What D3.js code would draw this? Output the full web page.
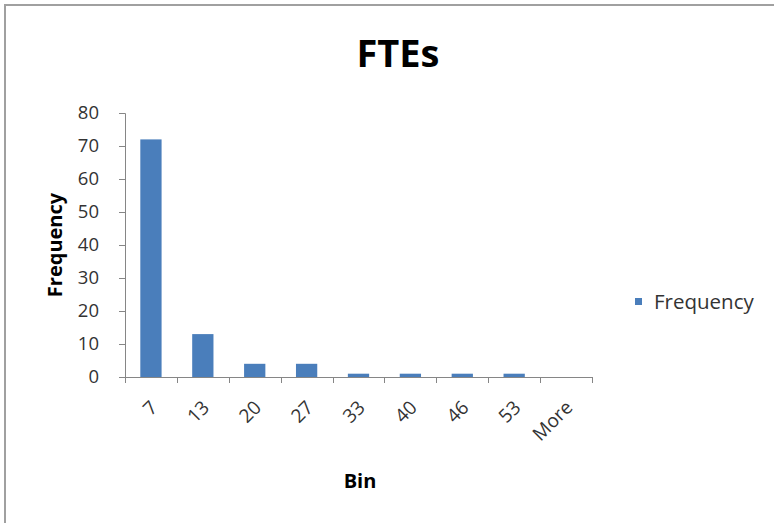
<!DOCTYPE html>
<html>
<head>
<meta charset="utf-8">
<script src="https://cdn.jsdelivr.net/npm/d3@7"></script>
<style>
  html, body { margin: 0; padding: 0; background: #fff; }
  svg { display: block; }
  text { font-family: "Open Sans", "Liberation Sans", sans-serif; }
</style>
</head>
<body>
<svg id="chart" width="774" height="523"></svg>
<script>
const categories = ["7", "13", "20", "27", "33", "40", "46", "53", "More"];
const frequency = [72, 13, 4, 4, 1, 1, 1, 1, 0];
const yTicks = [0, 10, 20, 30, 40, 50, 60, 70, 80];
const seriesName = "Frequency";
const chartTitle = "FTEs";
const xTitle = "Bin";
const yTitle = "Frequency";

const svg = d3.select("#chart");
const W = 774, H = 523;
svg.append("rect").attr("width", W).attr("height", H).attr("fill", "#fff");
// frame (left and top edges visible)
svg.append("line").attr("x1", 5).attr("x2", 5).attr("y1", 4).attr("y2", H)
  .attr("stroke", "#a0a0a0").attr("stroke-width", 2);
svg.append("line").attr("x1", 4).attr("x2", W).attr("y1", 5).attr("y2", 5)
  .attr("stroke", "#a0a0a0").attr("stroke-width", 2);

const plot = { left: 125, right: 592, top: 113, bottom: 377 };
const x = d3.scaleBand().domain(categories).range([plot.left, plot.right]).padding(0);
const y = d3.scaleLinear().domain([0, 80]).range([plot.bottom, plot.top]);
const axisColor = "#868686";
const labelColor = "#333333";
const barColor = "#4A7EBB";

// Y axis
const yAxis = svg.append("g").attr("transform", `translate(${plot.left},0)`)
  .call(d3.axisLeft(y).tickValues(yTicks).tickSize(6).tickPadding(20).tickFormat(d3.format("d")));
yAxis.select(".domain").attr("stroke", axisColor);
yAxis.selectAll(".tick line").attr("stroke", axisColor);
yAxis.selectAll(".tick text").attr("fill", labelColor).style("font-size", "18.5px")
  .style("font-family", "'Open Sans', sans-serif");

// Bars
const bw = x.bandwidth();
svg.append("g").selectAll("rect").data(categories).join("rect")
  .attr("x", d => x(d) + bw * 0.295)
  .attr("width", bw * 0.41)
  .attr("y", (d, i) => y(frequency[i]))
  .attr("height", (d, i) => y(0) - y(frequency[i]))
  .attr("fill", barColor);

// X axis line and boundary ticks
const xg = svg.append("g");
xg.append("line").attr("x1", plot.left).attr("x2", plot.right)
  .attr("y1", y(0) + 0.5).attr("y2", y(0) + 0.5).attr("stroke", axisColor);
const bounds = categories.map(c => x(c)).concat([x.range()[1]]);
xg.selectAll("line.tk").data(bounds).join("line").attr("class", "tk")
  .attr("x1", d => Math.round(d) + 0.5).attr("x2", d => Math.round(d) + 0.5)
  .attr("y1", y(0)).attr("y2", y(0) + 6).attr("stroke", axisColor);
xg.selectAll("text").data(categories).join("text")
  .attr("transform", d => `translate(${x(d) + bw / 2 + 3},${y(0) + 27}) rotate(-45)`)
  .attr("text-anchor", "end")
  .attr("dy", "0.35em")
  .attr("fill", labelColor)
  .style("font-size", "19px")
  .text(d => d);

// Titles
svg.append("text").attr("x", 398).attr("y", 67).attr("text-anchor", "middle")
  .style("font-size", "38px").style("font-weight", "bold").attr("fill", "#000")
  .text(chartTitle);
svg.append("text").attr("x", 360).attr("y", 488).attr("text-anchor", "middle")
  .style("font-size", "20px").style("font-weight", "bold").attr("fill", "#000")
  .text(xTitle);
svg.append("text").attr("transform", "translate(62,245) rotate(-90)").attr("text-anchor", "middle")
  .style("font-size", "20px").style("font-weight", "bold").attr("fill", "#000")
  .text(yTitle);

// Legend
const lg = svg.append("g");
lg.append("rect").attr("x", 635).attr("y", 298).attr("width", 7).attr("height", 7).attr("fill", barColor);
lg.append("text").attr("x", 654).attr("y", 301.5).attr("dy", "0.35em")
  .style("font-size", "20.5px").attr("fill", labelColor).text(seriesName);
</script>
</body>
</html>
